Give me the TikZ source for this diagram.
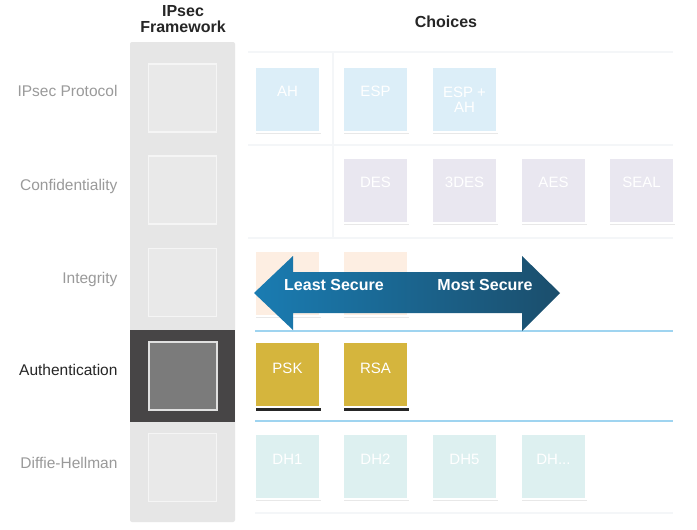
\documentclass[tikz,border=0pt]{standalone}
\usepackage{fontspec}
\setmainfont{Liberation Sans}
\usetikzlibrary{shadows}
\definecolor{colgray}{HTML}{E6E6E6}
\definecolor{innergray}{HTML}{E9E9E9}
\definecolor{darkblock}{HTML}{474546}
\definecolor{darkinner}{HTML}{7B7B7B}
\definecolor{lblgray}{HTML}{9A9A9A}
\definecolor{cblue}{HTML}{DCEEF8}
\definecolor{clav}{HTML}{E9E7F0}
\definecolor{cpeach}{HTML}{FDEEE2}
\definecolor{cgold}{HTML}{D5B53D}
\definecolor{cteal}{HTML}{DDF0F0}
\definecolor{linkblue}{HTML}{9FD4F0}
\definecolor{arrowL}{HTML}{1A7CB2}
\definecolor{arrowR}{HTML}{1B4E6C}
\definecolor{faint}{HTML}{F4F6F8}
\tikzset{
  rowlabel/.style={anchor=east, text=lblgray, font=\fontsize{15.5}{18}\selectfont},
  header/.style={font=\fontsize{16}{19}\selectfont\bfseries, text=black!85, align=center},
  fwbox/.style={draw=white!96!black, line width=1.5pt, fill=innergray, minimum width=68pt, minimum height=68pt, inner sep=0pt},
  cbox/.style={draw=white, line width=2pt, minimum width=65pt, minimum height=65pt, inner sep=0pt,
    drop shadow={shadow xshift=0.5pt, shadow yshift=-2pt, fill=black!9, opacity=1}},
  gbox/.style={draw=white, line width=2pt, fill=cgold, minimum width=65pt, minimum height=65pt, inner sep=0pt,
    drop shadow={shadow xshift=1pt, shadow yshift=-4pt, fill=black!85, opacity=1}},
  ctext/.style={text=white, font=\fontsize{15}{17}\selectfont},
  faintline/.style={draw=faint, line width=1.2pt},
}
\begin{document}
\begin{tikzpicture}[x=1pt, y=-1pt]
\useasboundingbox (0,0) rectangle (697,530);
\fill[white] (0,0) rectangle (697,530);

% faint row panel lines
\draw[faintline] (248,52) -- (673,52);
\draw[faintline] (248,145) -- (673,145);
\draw[faintline] (248,238) -- (673,238);
\draw[faintline] (333,52) -- (333,238);
\draw[faintline] (255,513) -- (673,513);

% headers
\node[header] (hfw) at (183,19) {IPsec\\[-3pt]Framework};
\node[header] (hch) at (446,22) {Choices};

% framework column
\fill[colgray, rounded corners=2pt] (130,42) rectangle (235,522);
\fill[darkblock] (130,330) rectangle (235,422);

\node[fwbox] (fw1) at (182.5,98) {};
\node[fwbox] (fw2) at (182.5,190) {};
\node[fwbox] (fw3) at (182.5,282.5) {};
\node[fwbox, fill=darkinner, draw=white!88!black, line width=2pt] (fw4) at (182.5,375.5) {};
\node[fwbox] (fw5) at (182.5,467.5) {};

% row labels
\node[rowlabel] (l1) at (121,91) {IPsec Protocol};
\node[rowlabel] (l2) at (121,186) {Confidentiality};
\node[rowlabel] (l3) at (121,279) {Integrity};
\node[rowlabel, text=black!85] (l4) at (121,370) {Authentication};
\node[rowlabel] (l5) at (121,463) {Diffie-Hellman};

% row 1
\node[cbox, fill=cblue, label={[ctext, yshift=8pt]center:AH}] (ah) at (287.5,99.5) {};
\node[cbox, fill=cblue, label={[ctext, yshift=8pt]center:ESP}] (esp) at (375.5,99.5) {};
\node[cbox, fill=cblue, ctext, align=center] (espah) at (464.5,99.5) {ESP +\\[-2pt]AH};

% row 2
\node[cbox, fill=clav, label={[ctext, yshift=8pt]center:DES}] (des) at (375.5,190) {};
\node[cbox, fill=clav, label={[ctext, yshift=8pt]center:3DES}] (tdes) at (464.5,190) {};
\node[cbox, fill=clav, label={[ctext, yshift=8pt]center:AES}] (aes) at (553.5,190) {};
\node[cbox, fill=clav, label={[ctext, yshift=8pt]center:SEAL}] (seal) at (641.5,190) {};

% row 3
\node[cbox, fill=cpeach] (i1) at (287.5,283.5) {};
\node[cbox, fill=cpeach] (i2) at (375.5,283.5) {};

% blue lines
\draw[linkblue, line width=1.2pt] (255,331) -- (673,331);
\draw[linkblue, line width=1.2pt] (255,421) -- (673,421);

% row 4
\node[gbox, label={[ctext, yshift=6pt]center:PSK}] (psk) at (287.5,374.5) {};
\node[gbox, label={[ctext, yshift=6pt]center:RSA}] (rsa) at (375.5,374.5) {};

% row 5
\node[cbox, fill=cteal, label={[ctext, yshift=7pt]center:DH1}] (dh1) at (287.5,466.5) {};
\node[cbox, fill=cteal, label={[ctext, yshift=7pt]center:DH2}] (dh2) at (375.5,466.5) {};
\node[cbox, fill=cteal, label={[ctext, yshift=7pt]center:DH5}] (dh5) at (464.5,466.5) {};
\node[cbox, fill=cteal, label={[ctext, yshift=7pt]center:DH...}] (dhx) at (553.5,466.5) {};

% double arrow
\shade[left color=arrowL, right color=arrowR]
  (254,293) -- (293,256) -- (293,272) -- (522,272) -- (522,256) -- (560,293)
  -- (522,331) -- (522,313) -- (293,313) -- (293,330) -- cycle;
\node[text=white, font=\fontsize{16}{19}\selectfont\bfseries] (least) at (334,285) {Least Secure};
\node[text=white, font=\fontsize{16}{19}\selectfont\bfseries] (most) at (485,285) {Most Secure};
\end{tikzpicture}
\end{document}
